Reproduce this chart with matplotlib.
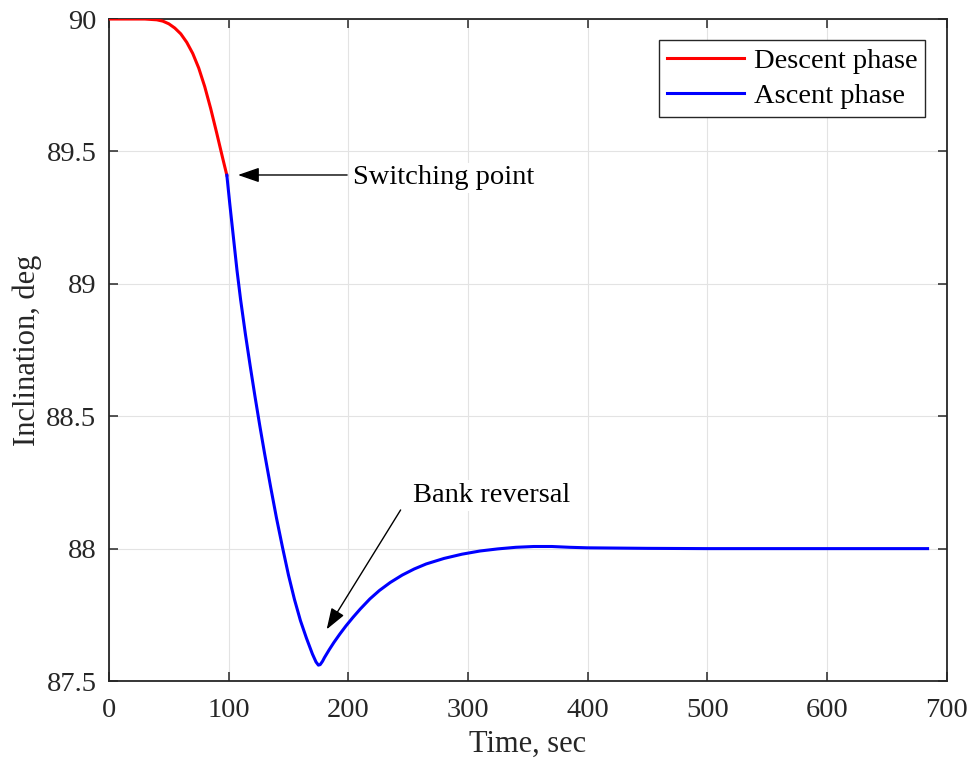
import numpy as np
import matplotlib
matplotlib.use("Agg")
import matplotlib.pyplot as plt

plt.rcParams['font.family'] = ['Liberation Serif', 'DejaVu Serif']

# descent phase (red)
t_desc = [0, 30, 40, 45, 50, 55, 60, 65, 70, 75, 80, 85, 90, 95, 98.5]
inc_desc = [90.0, 90.0, 89.997, 89.992, 89.982, 89.966, 89.944, 89.912, 89.87,
            89.815, 89.745, 89.662, 89.57, 89.475, 89.41]

# ascent phase (blue)
t_asc = [98.5, 101, 104, 107, 110, 114, 118, 122, 126, 130, 135, 140, 145, 150,
         155, 160, 165, 170, 173, 175, 176.5, 178.5, 180, 184, 188, 193, 198, 204,
         210, 218, 226, 235, 245, 255, 265, 280, 295, 310, 325, 340, 355, 370,
         385, 400, 450, 500, 600, 684]
inc_asc = [89.41, 89.30, 89.175, 89.05, 88.94, 88.81, 88.69, 88.575, 88.465, 88.36,
           88.235, 88.115, 88.005, 87.90, 87.808, 87.728, 87.662, 87.602, 87.572, 87.56,
           87.562, 87.575, 87.588, 87.618, 87.646, 87.678, 87.708, 87.741, 87.772,
           87.81, 87.842, 87.872, 87.90, 87.923, 87.942, 87.963, 87.979, 87.991,
           87.999, 88.005, 88.008, 88.008, 88.005, 88.003, 88.001, 88.0, 88.0, 88.0]

xticks = [0, 100, 200, 300, 400, 500, 600, 700]
yticks = [87.5, 88, 88.5, 89, 89.5, 90]
yticklabels = ['87.5', '88', '88.5', '89', '89.5', '90']

fs = 20.5
fs_lab = 22
spine_col = '#262626'

fig = plt.figure(figsize=(9.72, 7.61), dpi=100)
ax = fig.add_axes([0.1121, 0.1051, 0.8619, 0.8699])

ax.plot(t_desc, inc_desc, color='#ff0000', lw=2.2, label='Descent phase', zorder=3)
ax.plot(t_asc, inc_asc, color='#0000ff', lw=2.2, label='Ascent phase', zorder=3)

ax.set_xlim(0, 700)
ax.set_ylim(87.5, 90)
ax.set_xticks(xticks)
ax.set_yticks(yticks)
ax.set_yticklabels(yticklabels)
ax.grid(True, color='#e3e3e3', lw=0.8)
ax.set_axisbelow(True)

ax.tick_params(direction='in', length=6.5, width=1.1, top=True, right=True,
               labelsize=fs, colors=spine_col)
ax.tick_params(axis='x', pad=12)
ax.tick_params(axis='y', pad=9)
for s in ax.spines.values():
    s.set_color(spine_col)
    s.set_linewidth(1.3)

ax.set_xlabel('Time, sec', fontsize=fs_lab, color=spine_col, labelpad=5)
ax.set_ylabel('Inclination, deg', fontsize=fs_lab, color=spine_col, labelpad=3)

# annotations
arrow = dict(arrowstyle='-|>,head_length=1.3,head_width=0.45', color='k', lw=1.0,
             shrinkA=0, shrinkB=0, mutation_scale=10)
ax.text(204, 89.40, 'Switching point', fontsize=fs, va='center', ha='left',
        bbox=dict(fc='white', ec='none', pad=2), zorder=4)
ax.annotate('', xy=(107.8, 89.411), xytext=(199, 89.411), arrowprops=arrow, zorder=4)

ax.text(254, 88.20, 'Bank reversal', fontsize=fs, va='center', ha='left',
        bbox=dict(fc='white', ec='none', pad=2), zorder=4)
ax.annotate('', xy=(181.9, 87.695), xytext=(243.7, 88.146), arrowprops=arrow, zorder=4)

leg = ax.legend(loc='upper right', fontsize=fs, frameon=True, fancybox=False,
                handlelength=2.7, borderaxespad=0.75, labelspacing=0.3,
                handletextpad=0.35, borderpad=0.28, framealpha=1)
leg.get_frame().set_edgecolor(spine_col)
leg.get_frame().set_linewidth(1.0)

fig.savefig('out.png', dpi=100)
